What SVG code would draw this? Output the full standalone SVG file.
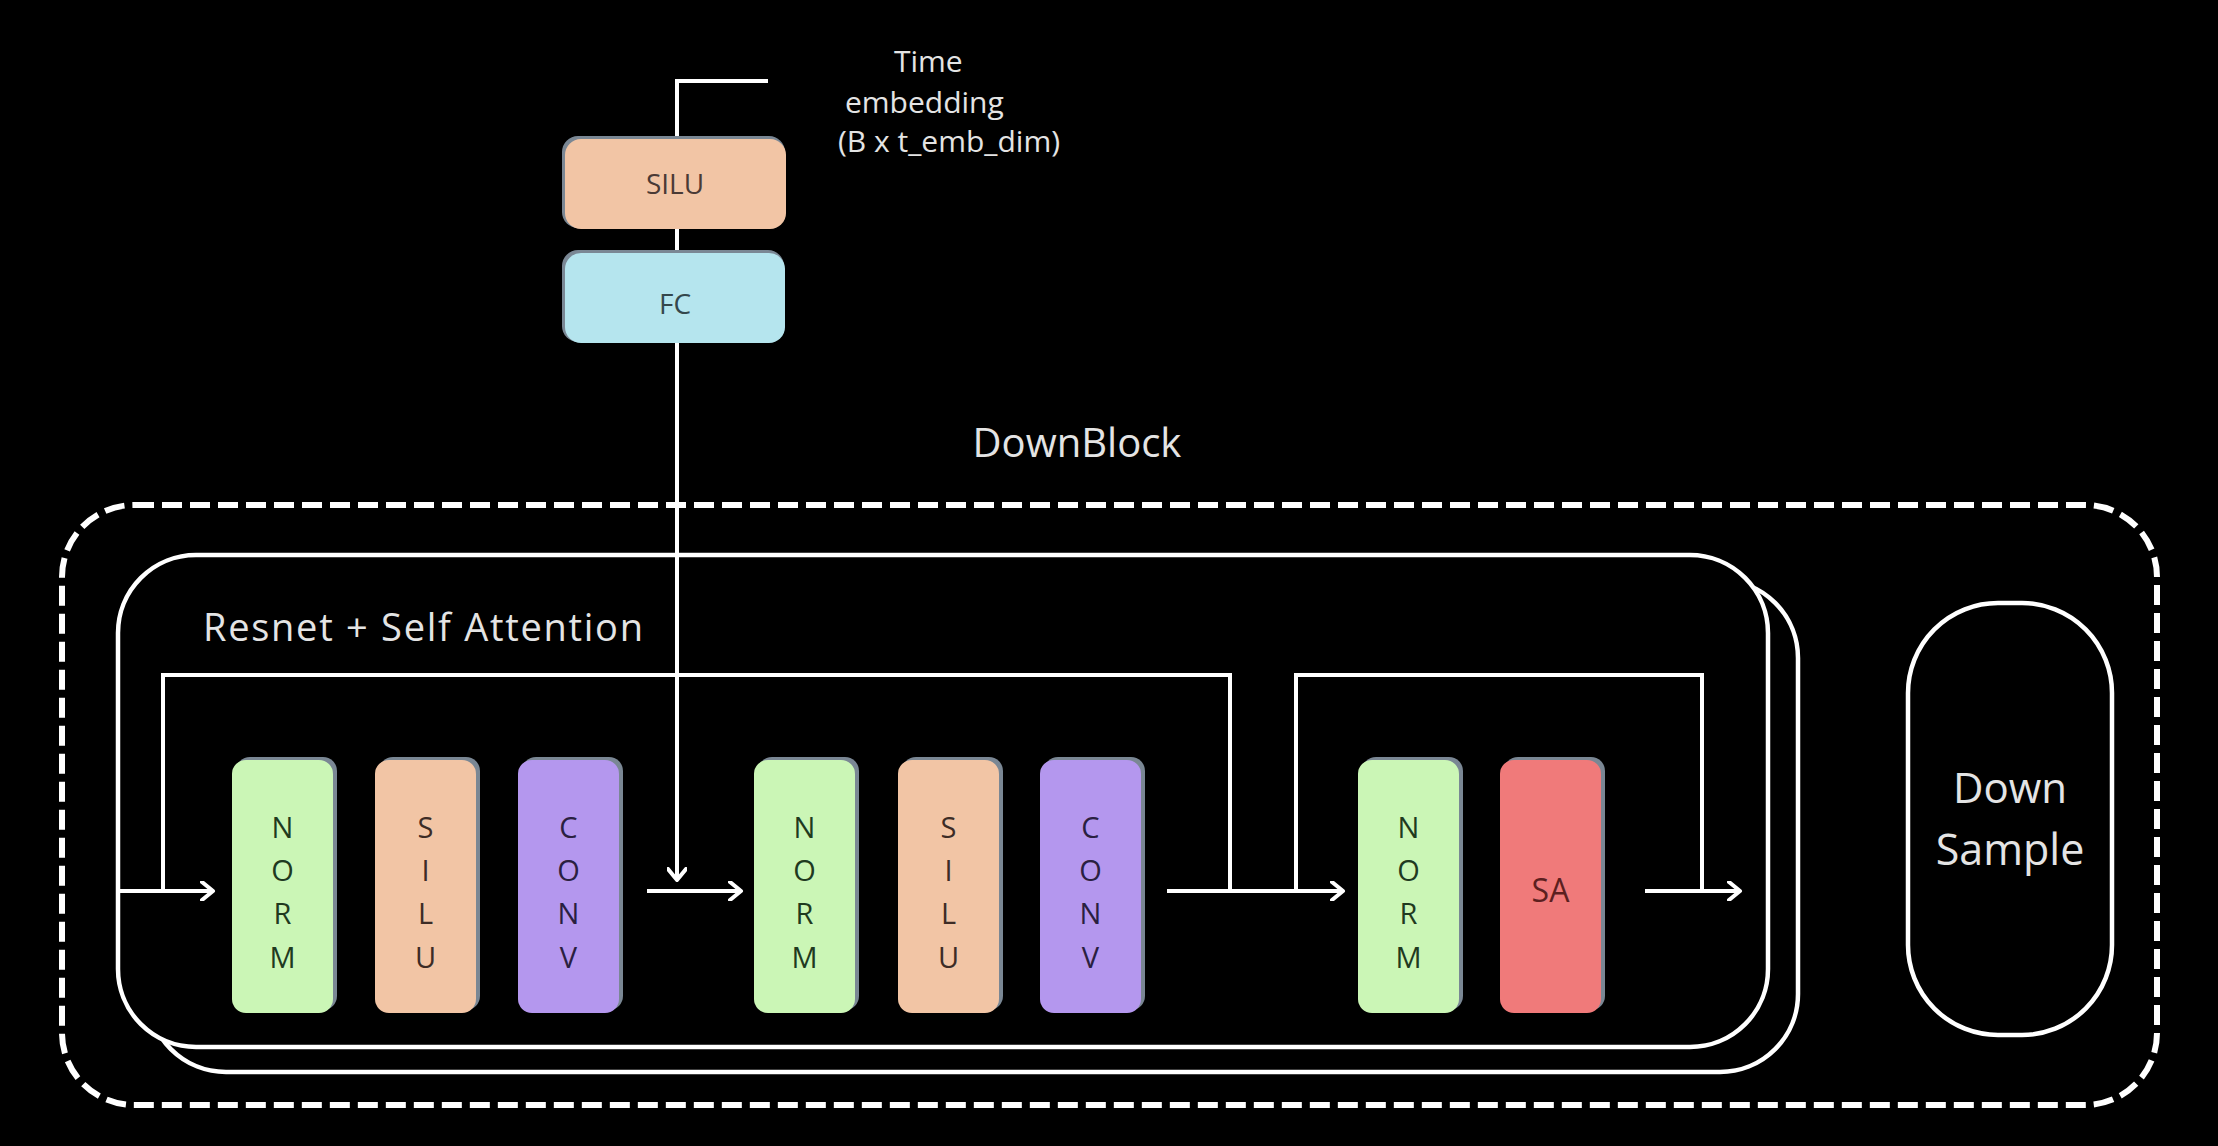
<svg xmlns="http://www.w3.org/2000/svg" width="2218" height="1146" viewBox="0 0 2218 1146">
<defs>
<style>
.lbl{font-family:"Open Sans","DejaVu Sans",sans-serif;fill:#e4e4e4}
.ltr{font-family:"Open Sans","DejaVu Sans",sans-serif;font-size:29px;text-anchor:middle}
.wire{fill:none;stroke:#ffffff;stroke-width:4}
.shadow{fill:#7a8794}
.frame{fill:#000000;stroke:#ffffff;stroke-width:4.5}
</style>
<marker id="arr" viewBox="0 0 16 20" refX="13" refY="10" markerWidth="16" markerHeight="20" markerUnits="userSpaceOnUse" orient="auto">
<path d="M2,1 L13,10 L2,19" fill="none" stroke="#ffffff" stroke-width="4" stroke-linecap="round" stroke-linejoin="round"/>
</marker>
</defs>
<rect width="2218" height="1146" fill="#000000"/>

<g id="downblock">
<rect x="62" y="505" width="2095" height="600" rx="72" fill="none" stroke="#ffffff" stroke-width="6" stroke-dasharray="20 8"/>
<text class="lbl" x="1077" y="457" font-size="40" text-anchor="middle">DownBlock</text>
</g>

<g id="resnet-block">
<rect class="frame" x="148" y="580" width="1650" height="492" rx="78"/>
<rect class="frame" x="118" y="555" width="1650" height="492" rx="78"/>
<text class="lbl" x="203" y="641" font-size="38" textLength="440" lengthAdjust="spacing">Resnet + Self Attention</text>
</g>

<g id="down-sample">
<rect x="1908" y="603" width="204" height="432" rx="90" fill="none" stroke="#ffffff" stroke-width="4.5"/>
<text class="lbl" x="2010" y="803" font-size="42" text-anchor="middle" fill="#d9d9d9">Down</text>
<text class="lbl" x="2010" y="865" font-size="43" text-anchor="middle" fill="#d9d9d9">Sample</text>
</g>

<g id="time-embedding-label">
<text class="lbl" x="894" y="72" font-size="30">Time</text>
<text class="lbl" x="845" y="113" font-size="30">embedding</text>
<text class="lbl" x="838" y="152" font-size="30">(B x t_emb_dim)</text>
</g>

<g id="connectors">
<path class="wire" d="M768 81 H677 V880" marker-end="url(#arr)"/>
<path class="wire" d="M118 891 H213" marker-end="url(#arr)"/>
<path class="wire" d="M163 891 V675 H1230 V891"/>
<path class="wire" d="M647 891 H741" marker-end="url(#arr)"/>
<path class="wire" d="M1167 891 H1343" marker-end="url(#arr)"/>
<path class="wire" d="M1296 891 V675 H1702 V891"/>
<path class="wire" d="M1645 891 H1740" marker-end="url(#arr)"/>
</g>

<g id="t-silu">
<rect class="shadow" x="562" y="136" width="223" height="92" rx="16"/>
<rect x="565" y="139" width="221" height="90" rx="16" fill="#F2C5A5"/>
<text x="675" y="194" font-family="Open Sans, DejaVu Sans, sans-serif" font-size="28" text-anchor="middle" fill="#4a3a35">SILU</text>
</g>
<g id="t-fc">
<rect class="shadow" x="562" y="250" width="222" height="92" rx="16"/>
<rect x="565" y="253" width="220" height="90" rx="16" fill="#B5E5EE"/>
<text x="675" y="314" font-family="Open Sans, DejaVu Sans, sans-serif" font-size="28" text-anchor="middle" fill="#34474c">FC</text>
</g>

<g id="norm1">
<rect class="shadow" x="236" y="757" width="101" height="253" rx="14"/>
<rect x="232" y="760" width="101" height="253" rx="14" fill="#CBF6B6"/>
<g class="ltr" fill="#1f3a1f"><text x="282.5" y="838">N</text><text x="282.5" y="881">O</text><text x="282.5" y="924">R</text><text x="282.5" y="968">M</text></g>
</g>
<g id="silu1">
<rect class="shadow" x="379" y="757" width="101" height="253" rx="14"/>
<rect x="375" y="760" width="101" height="253" rx="14" fill="#F2C5A5"/>
<g class="ltr" fill="#3d2c26"><text x="425.5" y="838">S</text><text x="425.5" y="881">I</text><text x="425.5" y="924">L</text><text x="425.5" y="968">U</text></g>
</g>
<g id="conv1">
<rect class="shadow" x="522" y="757" width="101" height="253" rx="14"/>
<rect x="518" y="760" width="101" height="253" rx="14" fill="#B497EE"/>
<g class="ltr" fill="#2a2040"><text x="568.5" y="838">C</text><text x="568.5" y="881">O</text><text x="568.5" y="924">N</text><text x="568.5" y="968">V</text></g>
</g>

<g id="norm2">
<rect class="shadow" x="758" y="757" width="101" height="253" rx="14"/>
<rect x="754" y="760" width="101" height="253" rx="14" fill="#CBF6B6"/>
<g class="ltr" fill="#1f3a1f"><text x="804.5" y="838">N</text><text x="804.5" y="881">O</text><text x="804.5" y="924">R</text><text x="804.5" y="968">M</text></g>
</g>
<g id="silu2">
<rect class="shadow" x="902" y="757" width="101" height="253" rx="14"/>
<rect x="898" y="760" width="101" height="253" rx="14" fill="#F2C5A5"/>
<g class="ltr" fill="#3d2c26"><text x="948.5" y="838">S</text><text x="948.5" y="881">I</text><text x="948.5" y="924">L</text><text x="948.5" y="968">U</text></g>
</g>
<g id="conv2">
<rect class="shadow" x="1044" y="757" width="101" height="253" rx="14"/>
<rect x="1040" y="760" width="101" height="253" rx="14" fill="#B497EE"/>
<g class="ltr" fill="#2a2040"><text x="1090.5" y="838">C</text><text x="1090.5" y="881">O</text><text x="1090.5" y="924">N</text><text x="1090.5" y="968">V</text></g>
</g>

<g id="norm3">
<rect class="shadow" x="1362" y="757" width="101" height="253" rx="14"/>
<rect x="1358" y="760" width="101" height="253" rx="14" fill="#CBF6B6"/>
<g class="ltr" fill="#1f3a1f"><text x="1408.5" y="838">N</text><text x="1408.5" y="881">O</text><text x="1408.5" y="924">R</text><text x="1408.5" y="968">M</text></g>
</g>
<g id="sa">
<rect class="shadow" x="1504" y="757" width="101" height="253" rx="14"/>
<rect x="1500" y="760" width="101" height="253" rx="14" fill="#F07A7A"/>
<text x="1550.5" y="902" font-family="Open Sans, DejaVu Sans, sans-serif" font-size="32" text-anchor="middle" fill="#5c1f1f">SA</text>
</g>
</svg>
